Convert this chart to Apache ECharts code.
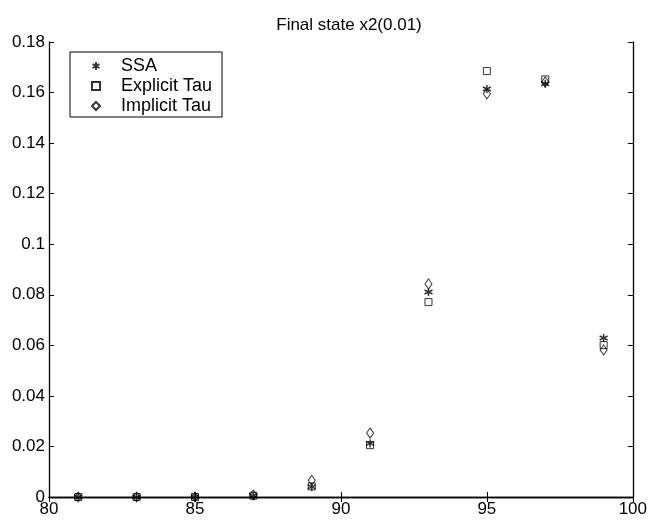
<!DOCTYPE html>
<html><head><meta charset="utf-8">
<script src="https://cdn.jsdelivr.net/npm/echarts@6/dist/echarts.min.js"></script>
<style>html,body{margin:0;padding:0;background:#fff}#c{width:650px;height:520px}</style>
</head><body><div id="c"></div>
<script>
const xValues = [81, 83, 85, 87, 89, 91, 93, 95, 97, 99];
const ssa = [0, 0, 0, 0.0005, 0.004, 0.0212, 0.0811, 0.1614, 0.1635, 0.0629];
const explicitTau = [0, 0, 0, 0.0005, 0.0042, 0.0205, 0.0771, 0.1685, 0.1652, 0.0601];
const implicitTau = [0, 0, 0, 0.0008, 0.0066, 0.0253, 0.0843, 0.1595, 0.1642, 0.0582];
const seriesNames = ['SSA', 'Explicit Tau', 'Implicit Tau'];
const titleText = 'Final state x2(0.01)';

const star = 'path://M0,-5L0,5M-4.3,-2.5L4.3,2.5M-4.3,2.5L4.3,-2.5';
const font = 'Liberation Sans, Arial, sans-serif';
function pairs(v) { return xValues.map((x, i) => [x, v[i]]); }

const chart = echarts.init(document.getElementById('c'), null, {renderer: 'canvas'});
const axisLine = {show: true, lineStyle: {color: '#000', width: 1.3}};
const tickIn = {show: true, inside: true, length: 5, lineStyle: {color: '#000'}};
chart.setOption({
  animation: false,
  backgroundColor: '#fff',
  title: {text: titleText, left: 344, top: 12, textAlign: 'center',
    textStyle: {fontFamily: font, fontSize: 17, fontWeight: 'normal', color: '#000'}},
  legend: {
    orient: 'vertical', left: 70, top: 52, padding: [5, 10, 2, 21],
    borderColor: '#000', borderWidth: 1, backgroundColor: '#fff',
    itemGap: 2, itemWidth: 8, itemHeight: 8,
    textStyle: {fontFamily: font, fontSize: 18, color: '#000', padding: [0, 0, 0, 16]},
    data: [
      {name: seriesNames[0], icon: star},
      {name: seriesNames[1], icon: 'rect'},
      {name: seriesNames[2], icon: 'diamond'}
    ]
  },
  grid: {left: 49, right: 14, top: 42, bottom: 23},
  xAxis: [
    {type: 'value', min: 80, max: 100, interval: 5, axisLine, axisTick: tickIn,
     splitLine: {show: false},
     axisLabel: {fontFamily: font, fontSize: 17, color: '#000', margin: 4}},
    {type: 'value', position: 'top', min: 80, max: 100, interval: 5, axisLine, axisTick: tickIn,
     splitLine: {show: false}, axisLabel: {show: false}}
  ],
  yAxis: [
    {type: 'value', min: 0, max: 0.18, interval: 0.02, axisLine, axisTick: tickIn,
     splitLine: {show: false},
     axisLabel: {fontFamily: font, fontSize: 17, color: '#000', margin: 4}},
    {type: 'value', position: 'right', min: 0, max: 0.18, interval: 0.02, axisLine, axisTick: tickIn,
     splitLine: {show: false}, axisLabel: {show: false}}
  ],
  series: [
    {name: seriesNames[0], type: 'scatter', data: pairs(ssa), symbol: star, symbolSize: 8,
     itemStyle: {color: '#000', borderColor: '#000', borderWidth: 1.5}},
    {name: seriesNames[1], type: 'scatter', data: pairs(explicitTau), symbol: 'rect', symbolSize: 7,
     itemStyle: {color: 'rgba(0,0,0,0)', borderColor: '#000', borderWidth: 1}},
    {name: seriesNames[2], type: 'scatter', data: pairs(implicitTau), symbol: 'diamond', symbolSize: [7, 10],
     itemStyle: {color: 'rgba(0,0,0,0)', borderColor: '#000', borderWidth: 1}}
  ]
});
</script></body></html>
